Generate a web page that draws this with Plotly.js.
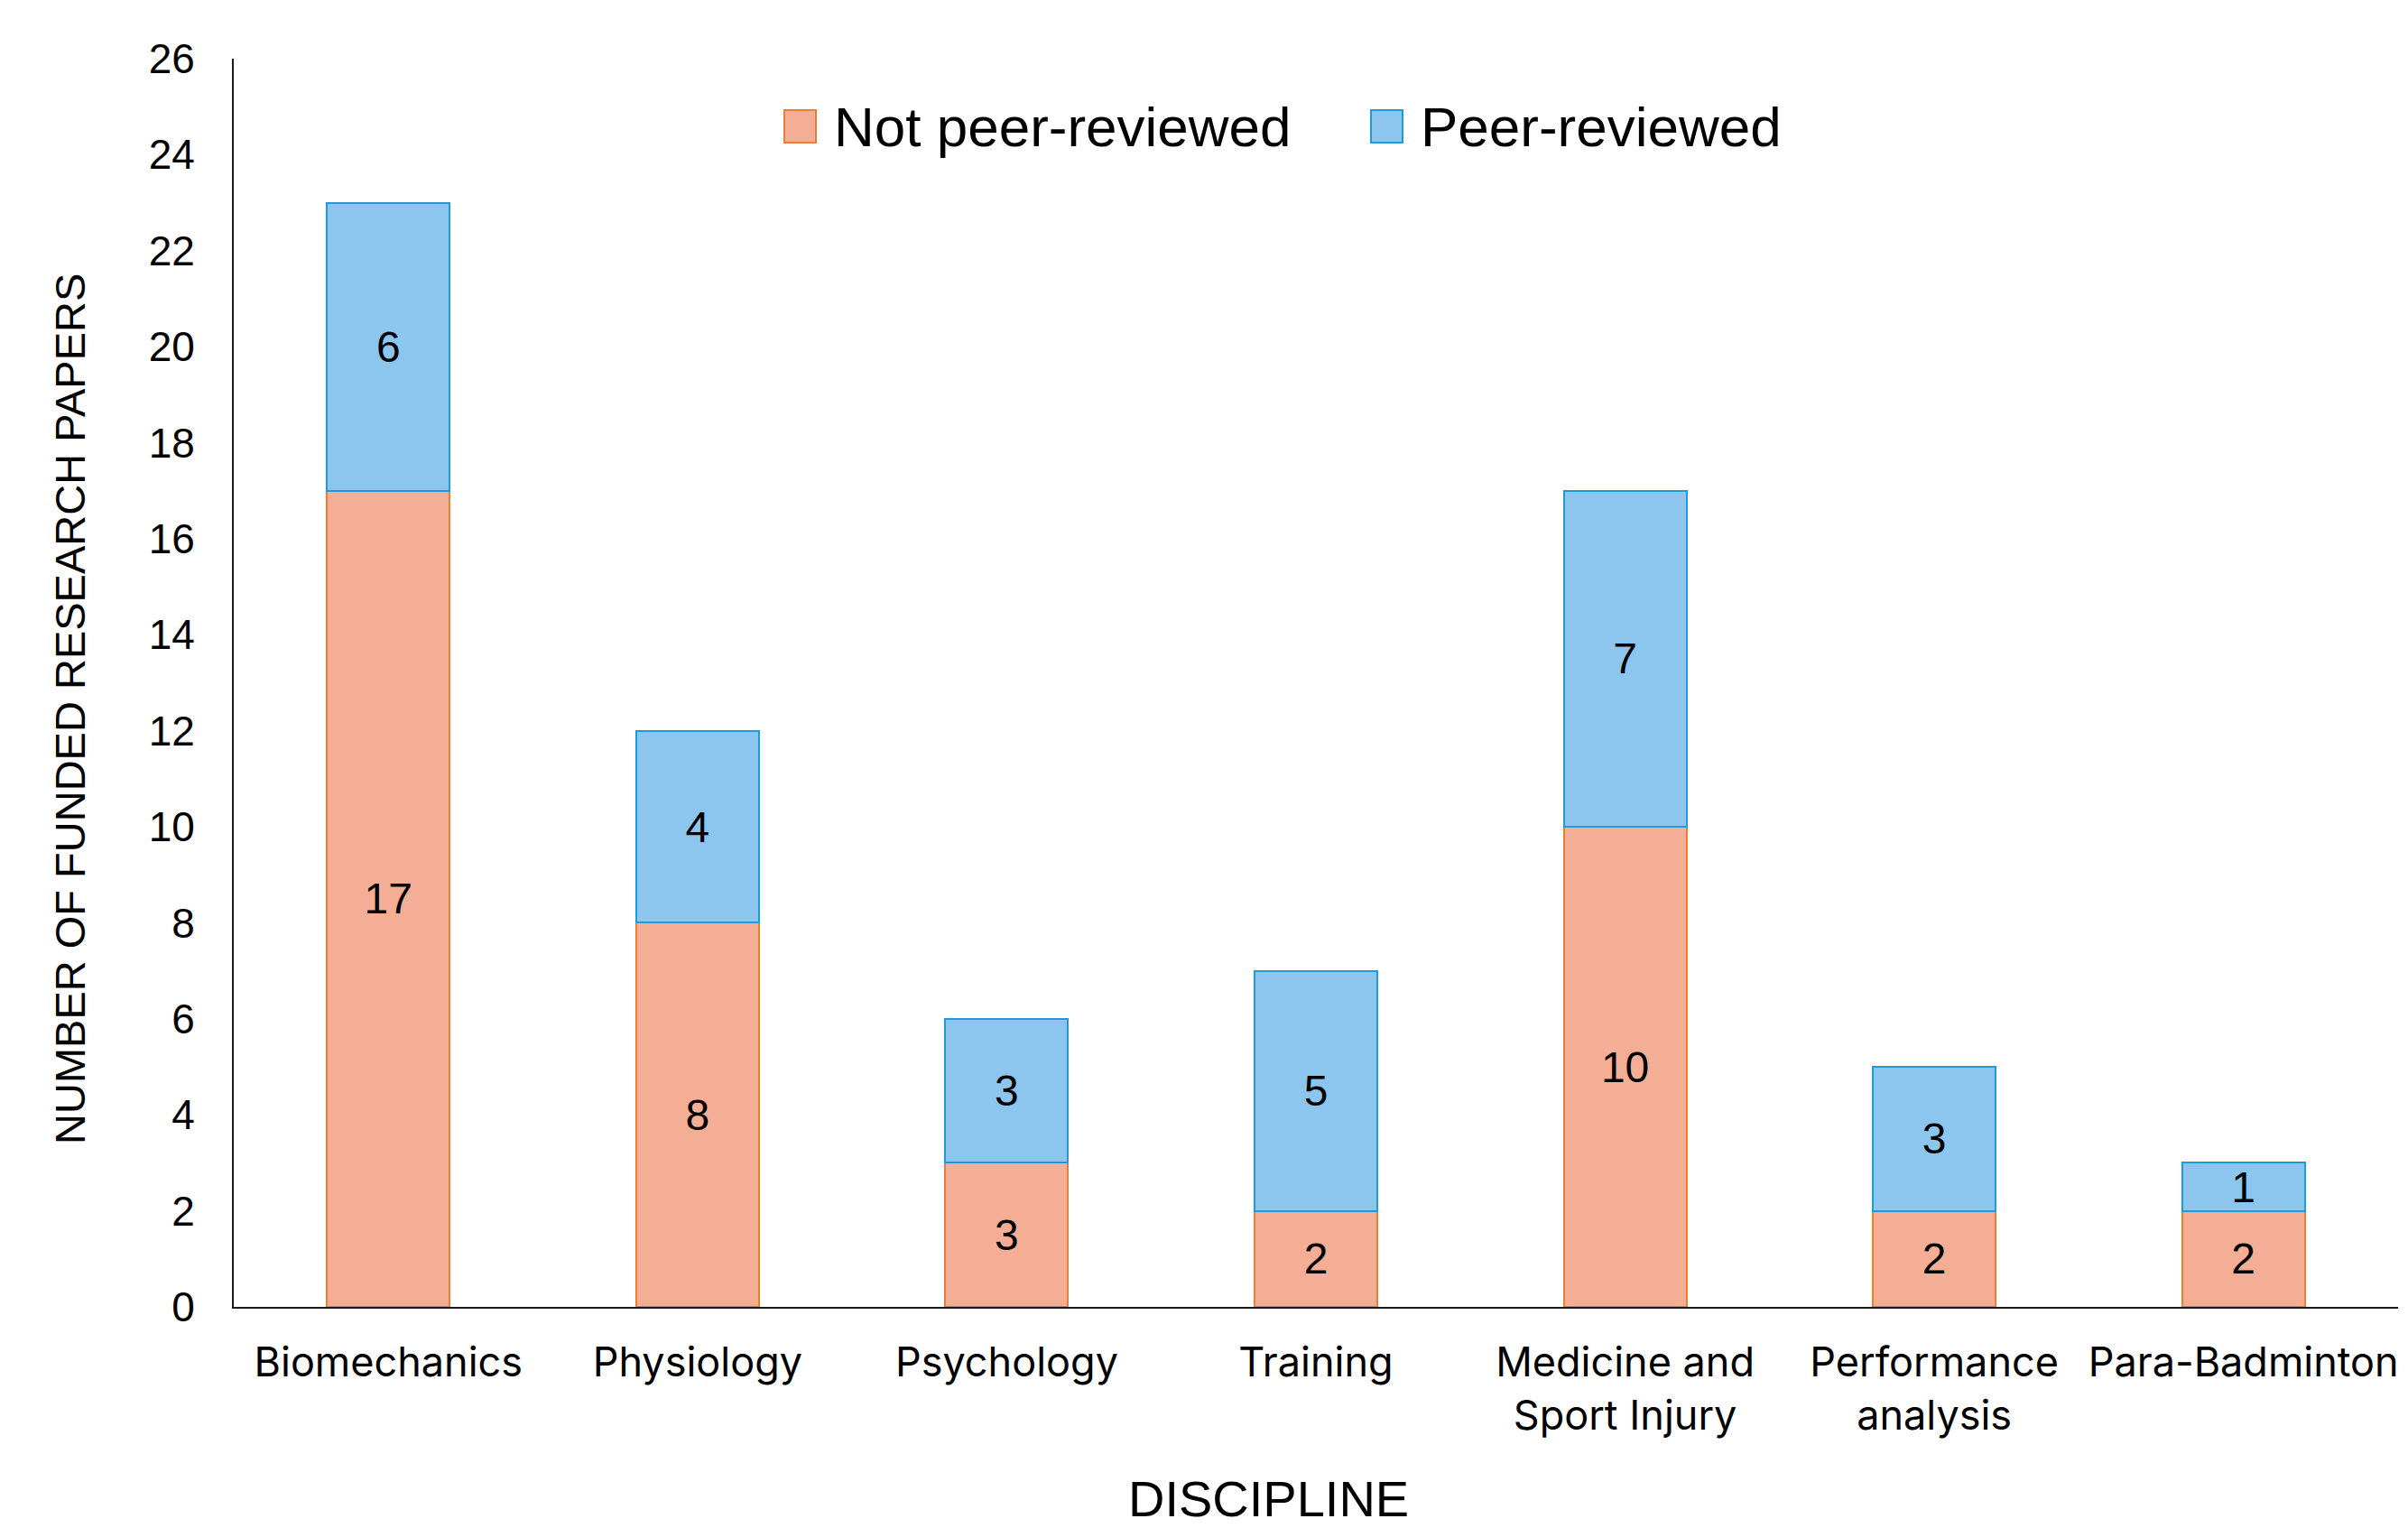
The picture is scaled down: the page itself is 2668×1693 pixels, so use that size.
<!DOCTYPE html>
<html>
<head>
<meta charset="utf-8">
<script src="https://cdn.plot.ly/plotly-3.0.1.min.js"></script>
<style>
  html, body { margin: 0; padding: 0; background: #ffffff; }
  #chart { width: 2668px; height: 1693px; }
</style>
</head>
<body>
<div id="chart"></div>
<script>
// ---- Data ----
const categories = [
  "Biomechanics",
  "Physiology",
  "Psychology",
  "Training",
  "Medicine and<br>Sport Injury",
  "Performance<br>analysis",
  "Para-Badminton"
];
const notPeerReviewed = [17, 8, 3, 2, 10, 2, 2];
const peerReviewed = [6, 4, 3, 5, 7, 3, 1];
const seriesNames = ["Not peer-reviewed", "Peer-reviewed"];
const yTickValues = [0, 2, 4, 6, 8, 10, 12, 14, 16, 18, 20, 22, 24, 26];
const xAxisTitle = "DISCIPLINE";
const yAxisTitle = "NUMBER OF FUNDED RESEARCH PAPERS";

// ---- Styles ----
const fills = ["#F4AE95", "#8CC6EF"];
const outlines = ["#ED7D31", "#1C9DD9"];
const labelFont = { family: "Liberation Sans, Arial, sans-serif", size: 48, color: "#000000" };

function barTrace(i, values) {
  return {
    type: "bar",
    name: seriesNames[i],
    x: categories,
    y: values,
    text: values.map(String),
    textposition: "inside",
    insidetextanchor: "middle",
    constraintext: "none",
    textangle: 0,
    textfont: labelFont,
    insidetextfont: labelFont,
    hoverinfo: "x+y+name",
    showlegend: false,
    marker: { color: fills[i], line: { color: outlines[i], width: 2 } }
  };
}
const traces = [barTrace(0, notPeerReviewed), barTrace(1, peerReviewed)];

// plot area geometry (px) for placing the legend / titles in paper coordinates
const plotL = 259, plotR = 2657, plotT = 65, plotB = 1448;
const px = v => (v - plotL) / (plotR - plotL);
const py = v => (plotB - v) / (plotB - plotT);

// custom legend (large swatches like the reference)
const legendSwatchX = [869, 1519];
const legendTextX = [922, 1572];
const legendShapes = seriesNames.map((n, i) => ({
  type: "rect",
  xref: "paper", yref: "paper",
  x0: px(legendSwatchX[i]), x1: px(legendSwatchX[i] + 35),
  y0: py(158), y1: py(122),
  fillcolor: fills[i],
  line: { color: outlines[i], width: 2 }
}));
const legendLabels = seriesNames.map((n, i) => ({
  text: n,
  xref: "paper", yref: "paper",
  x: px(legendTextX[i]), y: py(140),
  xanchor: "left", yanchor: "middle",
  showarrow: false,
  font: { family: "Liberation Sans, Arial, sans-serif", size: 62, color: "#000000" }
}));

const layout = {
  width: 2668,
  height: 1693,
  margin: { l: plotL, r: 2668 - plotR, t: plotT, b: 1693 - plotB, pad: 0 },
  paper_bgcolor: "#ffffff",
  plot_bgcolor: "#ffffff",
  barmode: "stack",
  bargap: 0.603,
  showlegend: false,
  xaxis: {
    type: "category",
    range: [-0.5, 6.5],
    showline: true,
    linecolor: "#1a1a1a",
    linewidth: 2,
    showgrid: false,
    zeroline: false,
    ticks: "",
    ticklabelstandoff: 21,
    tickfont: { family: "Inter, Open Sans, sans-serif", size: 45, color: "#000000" },
    fixedrange: true
  },
  yaxis: {
    range: [0, 26],
    tickmode: "array",
    tickvals: yTickValues,
    ticktext: yTickValues.map(String),
    showline: true,
    linecolor: "#1a1a1a",
    linewidth: 2,
    showgrid: false,
    zeroline: false,
    ticks: "",
    ticklabelstandoff: 32,
    tickfont: { family: "Liberation Sans, Arial, sans-serif", size: 46, color: "#000000" },
    fixedrange: true
  },
  shapes: legendShapes,
  annotations: legendLabels.concat([
    {
      text: xAxisTitle,
      xref: "paper", yref: "paper",
      x: px(1405), y: py(1660),
      xanchor: "center", yanchor: "middle",
      showarrow: false,
      font: { family: "Liberation Sans, Arial, sans-serif", size: 56, color: "#000000" }
    },
    {
      text: yAxisTitle,
      xref: "paper", yref: "paper",
      x: px(77), y: py(786),
      xanchor: "center", yanchor: "middle",
      textangle: -90,
      showarrow: false,
      font: { family: "Liberation Sans, Arial, sans-serif", size: 47, color: "#000000" }
    }
  ])
};

Plotly.newPlot("chart", traces, layout, { staticPlot: true, displayModeBar: false });
</script>
</body>
</html>
